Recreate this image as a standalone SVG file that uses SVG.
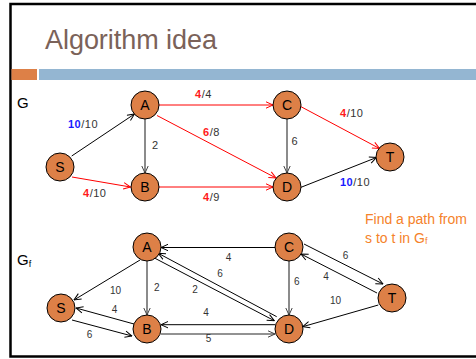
<svg xmlns="http://www.w3.org/2000/svg" width="476" height="359" viewBox="0 0 476 359">
<style>
.node circle{fill:#dd8047;stroke:#000;stroke-width:1}
.node text{font-family:"Liberation Sans",Arial,sans-serif;font-size:14px;fill:#000;text-anchor:middle}
.e{fill:none;stroke:#000;stroke-width:1}
.er{fill:none;stroke:#ff0000;stroke-width:1}
.eg{fill:none;stroke:#6e6e6e;stroke-width:1.6}
.lbl{font-family:"Liberation Sans",Arial,sans-serif;font-size:11px;fill:#333;letter-spacing:0.5px}
.lbf{font-family:"Liberation Sans",Arial,sans-serif;font-size:10px;fill:#333}
.red{fill:#ff1a1a;font-weight:bold}
.blue{fill:#1a1aff;font-weight:bold}
.note{font-family:"Liberation Sans",Arial,sans-serif;font-size:14px;fill:#f5822a}
.gl{font-family:"Liberation Sans",Arial,sans-serif;font-size:15px;fill:#000}
</style>
<defs>
<marker id="ab" viewBox="0 0 8 8" refX="7.5" refY="4" markerWidth="8" markerHeight="8" markerUnits="userSpaceOnUse" orient="auto"><path d="M0.5,0.8 L7.5,4 L0.5,7.2" fill="none" stroke="#000" stroke-width="1"/></marker>
<marker id="ar" viewBox="0 0 8 8" refX="7.5" refY="4" markerWidth="8" markerHeight="8" markerUnits="userSpaceOnUse" orient="auto"><path d="M0.5,0.8 L7.5,4 L0.5,7.2" fill="none" stroke="#ff0000" stroke-width="1"/></marker>
<marker id="ag" viewBox="0 0 8 8" refX="7.5" refY="4" markerWidth="8" markerHeight="8" markerUnits="userSpaceOnUse" orient="auto"><path d="M0.5,0.8 L7.5,4 L0.5,7.2" fill="none" stroke="#444" stroke-width="1"/></marker>
</defs>
<rect x="0" y="0" width="476" height="359" fill="#fff"/>
<rect x="10.5" y="4" width="480" height="352.5" fill="none" stroke="#000" stroke-width="2.5"/>
<text x="45" y="49" font-family="'Liberation Sans',Arial,sans-serif" font-size="27" fill="#7b6259" textLength="172">Algorithm idea</text>
<rect x="11.5" y="69" width="25.5" height="11" fill="#dd8047"/>
<rect x="39" y="69" width="437" height="11" fill="#94b6d2"/>
<text class="gl" x="17" y="108">G</text>
<text class="gl" x="17" y="265">G<tspan font-size="9" dy="2">f</tspan></text>
<text class="note" x="365" y="224">Find a path from</text>
<text class="note" x="365" y="242.5">s to t in G<tspan font-size="9" dy="1">f</tspan></text>
<g id="connectors">
<line class="e" x1="71.7" y1="156" x2="134.5" y2="114" marker-end="url(#ab)"/>
<line class="er" x1="72" y1="177" x2="130.5" y2="187" marker-end="url(#ar)"/>
<line class="eg" x1="145" y1="119" x2="145" y2="173" marker-end="url(#ag)"/>
<line class="er" x1="159" y1="105" x2="273" y2="105" marker-end="url(#ar)"/>
<line class="er" x1="157" y1="115.5" x2="276" y2="178" marker-end="url(#ar)"/>
<line class="er" x1="159" y1="187" x2="273" y2="187" marker-end="url(#ar)"/>
<line class="eg" x1="287" y1="119" x2="287" y2="173" marker-end="url(#ag)"/>
<line class="er" x1="301" y1="106.7" x2="379.5" y2="148.5" marker-end="url(#ar)"/>
<line class="e" x1="301" y1="187.3" x2="376.5" y2="157.5" marker-end="url(#ab)"/>
<text class="lbl" x="68" y="127.5"><tspan class="blue">10</tspan>/10</text>
<text class="lbl" x="83" y="196.5"><tspan class="red">4</tspan>/10</text>
<text class="lbl" x="152" y="149">2</text>
<text class="lbl" x="195" y="98"><tspan class="red">4</tspan>/4</text>
<text class="lbl" x="203" y="135.5"><tspan class="red">6</tspan>/8</text>
<text class="lbl" x="203" y="201"><tspan class="red">4</tspan>/9</text>
<text class="lbl" x="291.5" y="145">6</text>
<text class="lbl" x="340" y="116.5"><tspan class="red">4</tspan>/10</text>
<text class="lbl" x="340" y="185.5"><tspan class="blue">10</tspan>/10</text>
<line class="e" x1="140" y1="260" x2="74" y2="300" marker-end="url(#ab)"/>
<line class="eg" x1="147" y1="261" x2="147" y2="315" marker-end="url(#ag)"/>
<line class="e" x1="134" y1="324" x2="76" y2="308" marker-end="url(#ab)"/>
<line class="e" x1="72" y1="320" x2="132" y2="336" marker-end="url(#ab)"/>
<line class="e" x1="275" y1="247.5" x2="161" y2="247.5" marker-end="url(#ab)"/>
<line class="e" x1="276.7" y1="316.7" x2="158.3" y2="253.3" marker-end="url(#ab)"/>
<line class="e" x1="155" y1="258.3" x2="274.3" y2="320.7" marker-end="url(#ab)"/>
<line class="e" x1="275" y1="324.7" x2="161" y2="324.7" marker-end="url(#ab)"/>
<line class="eg" x1="161" y1="334" x2="275" y2="334" marker-end="url(#ag)"/>
<line class="eg" x1="289" y1="261" x2="289" y2="315" marker-end="url(#ag)"/>
<line class="e" x1="304" y1="244" x2="383" y2="284" marker-end="url(#ab)"/>
<line class="e" x1="377" y1="293" x2="301" y2="254" marker-end="url(#ab)"/>
<line class="e" x1="378.3" y1="305" x2="302.7" y2="326.7" marker-end="url(#ab)"/>
<text class="lbf" x="110" y="294">10</text>
<text class="lbf" x="154" y="291">2</text>
<text class="lbf" x="192.3" y="293.3">2</text>
<text class="lbf" x="111.7" y="313">4</text>
<text class="lbf" x="86.7" y="338">6</text>
<text class="lbf" x="203.3" y="316">4</text>
<text class="lbf" x="205.7" y="342">5</text>
<text class="lbf" x="225.7" y="260.7">4</text>
<text class="lbf" x="217.3" y="276.7">6</text>
<text class="lbf" x="294" y="285.3">6</text>
<text class="lbf" x="342.7" y="258.7">6</text>
<text class="lbf" x="323.3" y="280">4</text>
<text class="lbf" x="330" y="304.3">10</text>
</g>
<g id="g-S" class="node"><circle cx="60" cy="167" r="14"/><text x="60" y="172">S</text></g>
<g id="g-A" class="node"><circle cx="145" cy="105" r="14"/><text x="145" y="110">A</text></g>
<g id="g-B" class="node"><circle cx="145" cy="187" r="14"/><text x="145" y="192">B</text></g>
<g id="g-C" class="node"><circle cx="287" cy="105" r="14"/><text x="287" y="110">C</text></g>
<g id="g-D" class="node"><circle cx="287" cy="187" r="14"/><text x="287" y="192">D</text></g>
<g id="g-T" class="node"><circle cx="390" cy="157" r="14"/><text x="390" y="162">T</text></g>
<g id="gf-S" class="node"><circle cx="61" cy="308" r="14"/><text x="61" y="313">S</text></g>
<g id="gf-A" class="node"><circle cx="147" cy="247" r="14"/><text x="147" y="252">A</text></g>
<g id="gf-B" class="node"><circle cx="147" cy="329" r="14"/><text x="147" y="334">B</text></g>
<g id="gf-C" class="node"><circle cx="289" cy="247" r="14"/><text x="289" y="252">C</text></g>
<g id="gf-D" class="node"><circle cx="289" cy="329" r="14"/><text x="289" y="334">D</text></g>
<g id="gf-T" class="node"><circle cx="392" cy="298" r="14"/><text x="392" y="303">T</text></g>
</svg>
